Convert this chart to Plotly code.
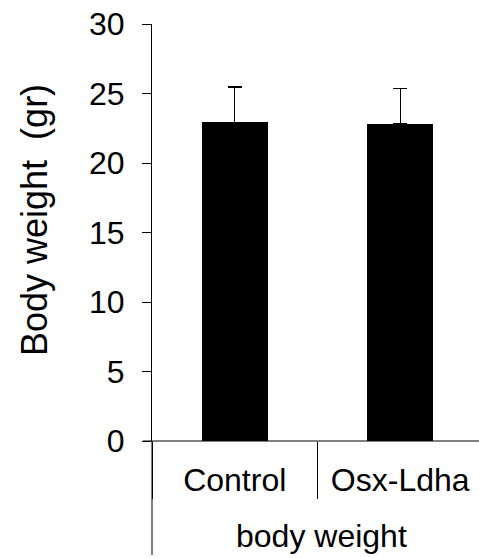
import plotly.graph_objects as go

categories = ["Control", "Osx-Ldha"]
group_label = "body weight"
values = [22.93, 22.83]
errors = [2.54, 2.54]
y_ticks = [0, 5, 10, 15, 20, 25, 30]
y_title = "Body weight  (gr)"

FONT = "Arial, 'Liberation Sans', sans-serif"

fig = go.Figure()
fig.add_trace(go.Bar(
    x=categories, y=values, width=0.396,
    marker=dict(color="black", line=dict(width=0)),
    error_y=dict(type="data", symmetric=False, array=errors,
                 arrayminus=[0] * len(errors), color="black",
                 thickness=1.2, width=7),
    showlegend=False,
))

W, H = 479, 558
L, T, B = 152, 24, 117
plot_h = H - T - B
plot_w = W - L

def px_x(page_x):
    return (page_x - L) / plot_w

def px_y(page_y):
    return (T + plot_h - page_y) / plot_h

fig.update_layout(
    width=W, height=H,
    margin=dict(l=L, r=0, t=T, b=B, pad=0),
    paper_bgcolor="white", plot_bgcolor="white",
    font=dict(family=FONT, color="black"),
    bargap=0,
)
fig.update_xaxes(
    type="category", range=[-0.5, 1.476],
    showgrid=False, zeroline=False, showline=False,
    ticks="outside", tickson="boundaries", ticklen=57, tickwidth=1,
    tickcolor="black", ticklabelstandoff=17,
    tickfont=dict(size=32, family=FONT, color="black"),
)
fig.update_yaxes(
    range=[0, 30], tickvals=y_ticks, ticktext=[str(v) for v in y_ticks],
    showgrid=False, zeroline=False, showline=True, linecolor="black", linewidth=1,
    ticks="outside", ticklen=9, tickwidth=1, tickcolor="black",
    ticklabelstandoff=11,
    tickfont=dict(size=32, family=FONT, color="black"),
)
# axis titles
fig.add_annotation(text=y_title, xref="paper", yref="paper",
                   x=px_x(35), y=px_y(220), xanchor="center", yanchor="middle",
                   textangle=-90, showarrow=False,
                   font=dict(size=36, family=FONT, color="black"))
fig.add_annotation(text=group_label, xref="paper", yref="paper",
                   x=px_x(321), y=px_y(536), xanchor="center", yanchor="middle",
                   showarrow=False,
                   font=dict(size=32, family=FONT, color="black"))
# x axis line at y=0, extended left by tick length
fig.add_shape(type="line", xref="paper", yref="paper",
              x0=-9 / plot_w, x1=1, y0=0, y1=0,
              line=dict(color="black", width=1))
# y axis line extended below zero
fig.add_shape(type="line", xref="paper", yref="paper",
              x0=0, x1=0, y0=0, y1=-114 / plot_h,
              line=dict(color="black", width=1))

fig.write_html("out.html", config={"displayModeBar": False},
               post_script="document.body.style.margin='0px';")
